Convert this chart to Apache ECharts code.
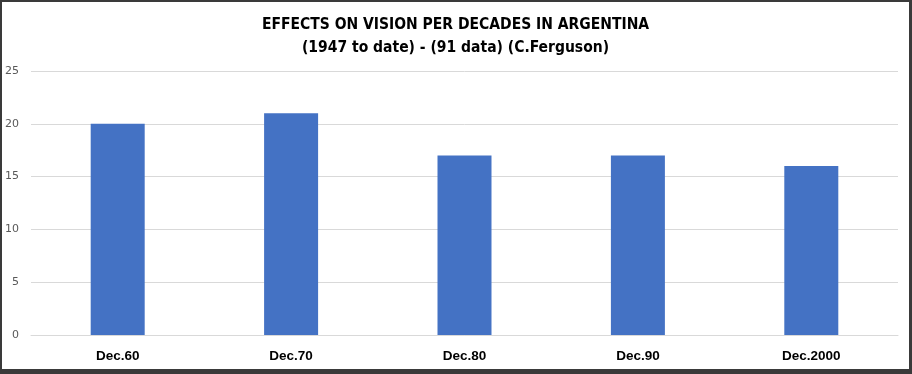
<!DOCTYPE html>
<html><head><meta charset="utf-8">
<script src="https://cdn.jsdelivr.net/npm/echarts@6/dist/echarts.min.js"></script>
<style>
html,body{margin:0;padding:0;background:#fff;}
#wrap{width:912px;height:374px;box-sizing:border-box;border-style:solid;border-color:#3a3a3a;border-width:2px 3px 5px 2px;background:#fff;}
#c{width:907px;height:367px;}
</style></head><body>
<div id="wrap"><div id="c"></div></div>
<script>
const categories = ['Dec.60','Dec.70','Dec.80','Dec.90','Dec.2000'];
const values = [20, 21, 17, 17, 16];
const titleLines = ['EFFECTS ON VISION PER DECADES IN ARGENTINA','(1947 to date) - (91 data) (C.Ferguson)'];

const chart = echarts.init(document.getElementById('c'), null, {renderer:'canvas'});
chart.setOption({
  animation:false,
  backgroundColor:'#fff',
  title:{
    text:titleLines.join('\n'),
    left:'center', top:6,
    textStyle:{fontFamily:'"Liberation Sans Narrow","DejaVu Sans Condensed",sans-serif',fontSize:15.5,fontWeight:'bold',color:'#000',lineHeight:23}
  },
  grid:{left:28,right:11,top:69,bottom:34},
  xAxis:{
    type:'category', data:categories,
    axisLine:{lineStyle:{color:'#d9d9d9',width:1}},
    axisTick:{show:false},
    axisLabel:{margin:14,fontFamily:'"Liberation Sans",Arial,sans-serif',fontSize:13.5,fontWeight:'bold',color:'#000'}
  },
  yAxis:{
    type:'value', min:0, max:25, interval:5,
    axisLine:{show:false}, axisTick:{show:false},
    splitLine:{lineStyle:{color:'#d9d9d9',width:1}},
    axisLabel:{margin:12,fontFamily:'"DejaVu Sans",sans-serif',fontSize:11,color:'#595959'}
  },
  series:[{type:'bar',data:values,barWidth:54,itemStyle:{color:'#4472C4'}}]
});
</script></body></html>
